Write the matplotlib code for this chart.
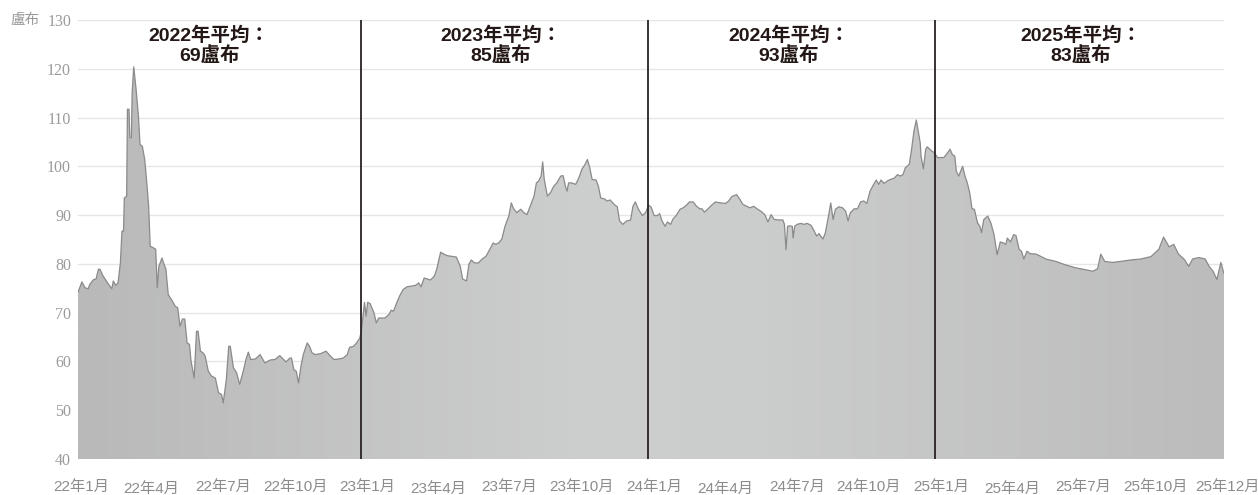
import numpy as np
import pandas as pd
import matplotlib
matplotlib.use('Agg')
import matplotlib.pyplot as plt
import matplotlib.dates as mdates
from matplotlib.colors import LinearSegmentedColormap
from matplotlib.transforms import ScaledTranslation

# USD/RUB, days counted from 2022-01-05
day = [0, 5, 9, 13, 15, 20, 23, 26, 28, 32, 39, 43, 45, 48, 51, 54, 56, 58, 59, 62,
       63, 65, 66, 68, 69, 71, 74, 77, 79, 82, 85, 88, 90, 92, 96, 99, 101, 103, 107, 109,
       112, 115, 119, 124, 127, 130, 133, 136, 139, 142, 144, 148, 151, 153, 156, 159, 162, 166, 170, 175,
       179, 183, 185, 189, 192, 194, 198, 202, 206, 211, 214, 217, 220, 226, 230,
       232, 238, 245, 251, 257, 262, 265, 270, 272, 275, 278, 281, 284, 287, 292, 295, 298, 302, 309, 316,
       321, 326, 332, 338, 343, 346, 351, 355, 359, 361, 365, 367, 369, 372, 377, 380, 383, 387, 391, 396,
       399, 402, 406, 410, 414, 419, 423, 430, 434, 437, 441, 445, 449, 454, 457, 462, 465, 470,
       474, 482, 487, 490, 495, 498, 501, 505, 510, 515, 520, 525, 529, 532, 536, 540, 544, 549, 552, 555,
       559, 564, 568, 572, 576, 581, 584, 587, 590, 592, 594, 598, 602, 606, 610, 615, 618, 621, 623, 625,
       629, 634, 638, 642, 646, 649, 652, 655, 660, 663, 666, 671, 674, 678, 683, 687, 690, 694, 699, 704,
       707, 710, 714, 719, 723,
       727, 730, 734, 738, 741, 744, 748, 751, 755, 758, 762, 767, 771, 775, 779, 784, 788, 792, 795, 798,
       802, 807, 812, 819, 825, 829, 833, 839, 843, 847, 852, 856, 861, 865, 870, 875, 879, 883, 887, 893,
       898, 900, 902, 904, 907, 910, 911, 913, 916, 921, 925, 929, 934, 938, 941, 944, 949, 952, 956, 959,
       962, 965, 969,
       974, 978, 981, 984, 989, 993, 997, 1001, 1005, 1009, 1013, 1017, 1020, 1023, 1027, 1031, 1035, 1040, 1044, 1048,
       1051, 1054, 1059, 1062, 1065, 1068, 1070, 1073, 1074, 1077, 1080, 1082, 1085, 1088, 1091, 1095, 1103, 1108, 1111, 1114,
       1117, 1119, 1122, 1127, 1130, 1133, 1136, 1139, 1142, 1146, 1149, 1151, 1154, 1159, 1163, 1167, 1171, 1175, 1179, 1182,
       1184, 1188, 1192, 1195, 1199, 1202, 1205, 1209, 1213,
       1221, 1233, 1246, 1258, 1271, 1284, 1293, 1299, 1303, 1308, 1318, 1328, 1341, 1354, 1367, 1377, 1383, 1390, 1396, 1402,
       1409, 1415, 1420, 1428, 1436, 1441, 1446, 1451, 1456, 1460]
rate = [74.2, 76.3, 75.1, 74.9, 75.8, 76.8, 76.9, 78.9, 78.9, 77.5, 75.8, 74.9, 76.5, 75.6, 76.1, 80.2, 86.7, 86.7, 93.5, 93.9,
        111.7, 111.7, 105.9, 105.9, 115.1, 120.4, 115.8, 110.3, 104.5, 104.1, 101.4, 95.9, 91.8, 83.6, 83.3, 83.0, 75.1, 79.5, 81.2, 80.2,
        78.9, 73.7, 72.7, 71.3, 71.0, 67.2, 68.7, 68.7, 63.8, 63.5, 60.1, 56.6, 66.2, 66.2, 62.1, 61.8, 61.1, 58.0, 57.0, 56.6,
        53.6, 53.2, 51.5, 56.3, 63.1, 63.1, 58.7, 57.7, 55.3, 58.3, 60.4, 61.9, 60.4, 60.5, 61.1,
        61.4, 59.7, 60.3, 60.4, 61.2, 60.4, 59.9, 60.7, 60.7, 58.3, 58.0, 55.6, 59.0, 61.4, 63.8, 63.1, 61.8, 61.4, 61.6, 62.1,
        61.2, 60.4, 60.5, 60.7, 61.4, 62.9, 63.1, 63.8, 64.8, 66.2, 72.1, 69.3, 72.1, 71.9, 70.0, 67.9, 68.9, 68.9, 68.9, 69.6,
        70.5, 70.3, 72.0, 73.5, 74.7, 75.3, 75.4, 75.6, 76.1, 75.3, 77.1, 76.9, 76.7, 77.5, 78.9, 82.4, 82.1, 81.7,
        81.6, 81.4, 79.5, 76.9, 76.5, 79.9, 80.8, 80.2, 80.2, 81.0, 81.6, 83.1, 84.3, 84.0, 84.3, 85.1, 87.7, 89.9, 92.5, 91.3,
        90.5, 91.2, 90.5, 90.1, 91.8, 93.9, 96.6, 97.0, 98.0, 100.9, 97.3, 93.9, 94.6, 95.9, 96.6, 98.0, 98.1, 95.9, 94.9, 96.6,
        96.6, 96.3, 97.6, 99.4, 100.4, 101.4, 99.7, 97.3, 97.2, 95.9, 93.5, 93.3, 92.9, 93.1, 92.2, 91.7, 88.8, 88.1, 88.8, 89.0,
        91.8, 92.7, 91.2, 89.9, 90.5,
        92.0, 91.7, 89.9, 89.9, 90.3, 88.8, 87.7, 88.6, 88.1, 89.2, 89.9, 91.2, 91.5, 92.0, 92.7, 92.7, 91.8, 91.3, 91.3, 90.6,
        91.2, 92.0, 92.7, 92.5, 92.4, 92.9, 93.8, 94.2, 93.3, 92.2, 91.8, 91.5, 91.8, 91.3, 90.8, 90.1, 88.6, 90.1, 89.1, 89.0,
        89.0, 88.1, 82.9, 87.7, 87.8, 87.7, 85.3, 87.7, 88.1, 88.3, 88.1, 88.3, 87.9, 86.7, 85.7, 86.2, 85.1, 86.3, 89.7, 92.5,
        89.1, 91.2, 91.7,
        91.5, 90.8, 88.8, 90.5, 91.3, 91.3, 92.7, 92.9, 92.4, 94.9, 96.1, 97.2, 96.3, 97.2, 96.5, 97.0, 97.3, 97.6, 98.3, 98.0,
        98.3, 99.7, 100.4, 103.5, 107.2, 109.5, 107.6, 104.8, 102.1, 99.5, 103.5, 104.0, 103.5, 103.1, 102.8, 101.8, 101.8, 102.8, 103.5, 102.4,
        102.1, 99.0, 98.0, 100.0, 98.0, 96.6, 94.6, 91.3, 91.2, 88.4, 87.7, 86.4, 89.1, 89.8, 88.4, 86.0, 81.9, 84.5, 84.3, 84.0,
        85.3, 84.5, 86.0, 85.8, 83.0, 82.6, 81.0, 82.6, 82.1,
        82.0, 81.0, 80.5, 79.8, 79.2, 78.8, 78.5, 79.0, 82.0, 80.5, 80.3, 80.5, 80.8, 81.0, 81.5, 83.0, 85.5, 83.5, 84.0, 82.0,
        81.0, 79.5, 81.0, 81.3, 81.0, 79.5, 78.5, 76.8, 80.3, 78.0]

year_lines = ['2023-01-01', '2024-01-01', '2025-01-01']
avg_pos = ['2022-06-21', '2023-06-28', '2024-06-29', '2025-07-06']
avg_text = ['2022年平均：\n69盧布', '2023年平均：\n85盧布', '2024年平均：\n93盧布', '2025年平均：\n83盧布']
tick_dates = ['2022-01-05', '2022-04-01', '2022-07-01', '2022-10-01', '2023-01-01', '2023-04-01', '2023-07-01',
              '2023-10-01', '2024-01-01', '2024-04-01', '2024-07-01', '2024-10-01', '2025-01-01', '2025-04-01',
              '2025-07-01', '2025-10-01', '2026-01-04']
tick_text = ['22年1月', '22年4月', '22年7月', '22年10月', '23年1月', '23年4月', '23年7月', '23年10月',
             '24年1月', '24年4月', '24年7月', '24年10月', '25年1月', '25年4月', '25年7月', '25年10月', '25年12月']

dates = pd.Timestamp('2022-01-05') + pd.to_timedelta(day, unit='D')
xnum = mdates.date2num(dates)

fig = plt.figure(figsize=(12.58, 4.95), dpi=100)
ax = fig.add_axes([78/1258, 36/495, 1146/1258, 439/495])

# gradient fill clipped to the area
poly = ax.fill_between(xnum, rate, 40, color='none', lw=0)
cmap = LinearSegmentedColormap.from_list('g', [(0, '#b9b9b9'), (0.45, '#cdcece'), (0.6, '#cbcccc'), (1, '#bcbcbc')])
grad = np.linspace(0, 1, 400).reshape(1, -1)
im = ax.imshow(grad, extent=[xnum[0], xnum[-1], 40, 130], aspect='auto', cmap=cmap, zorder=1)
im.set_clip_path(poly.get_paths()[0], transform=ax.transData)
ax.plot(xnum, rate, color='#8a8a8a', lw=0.9, zorder=2)

for d in year_lines:
    ax.axvline(mdates.date2num(pd.Timestamp(d)), color='#2a2222', lw=1.3, zorder=3)

for d, t in zip(avg_pos, avg_text):
    ax.text(mdates.date2num(pd.Timestamp(d)), 0.941, t, transform=ax.get_xaxis_transform(),
            ha='center', va='center', fontsize=14, fontweight='bold', color='#231815',
            family=['Liberation Sans', 'Noto Sans CJK TC'], linespacing=1.1, zorder=4)

ax.set_xlim(xnum[0], xnum[-1])
ax.set_ylim(40, 130)
ax.set_yticks(range(40, 131, 10))
ax.yaxis.grid(True, color='#e6e6e6', lw=1)
ax.set_axisbelow(True)
for s in ax.spines.values():
    s.set_visible(False)
ax.tick_params(length=0)
ax.tick_params(axis='y', pad=5, labelsize=11.5, labelcolor='#9a9a9a')
for lb in ax.get_yticklabels():
    lb.set_family('Liberation Serif')

ax.set_xticks(mdates.date2num(pd.to_datetime(tick_dates)))
ax.set_xticklabels(tick_text)
ax.tick_params(axis='x', pad=15, labelsize=11, labelcolor='#8c8c8c')
for i, lb in enumerate(ax.get_xticklabels()):
    lb.set_family(['Liberation Sans', 'Noto Sans CJK TC'])
    dx = 3 if i in (0, len(tick_text) - 1) else 6
    dy = -2 if '4月' in tick_text[i] else 0
    lb.set_transform(lb.get_transform() + ScaledTranslation(dx/100, dy/100, fig.dpi_scale_trans))

fig.text(10/1258, 1 - 20/495, '盧布', ha='left', va='center', fontsize=10.5, color='#9a9a9a',
         family=['Noto Sans CJK TC'])

fig.savefig('out.png', dpi=100)
